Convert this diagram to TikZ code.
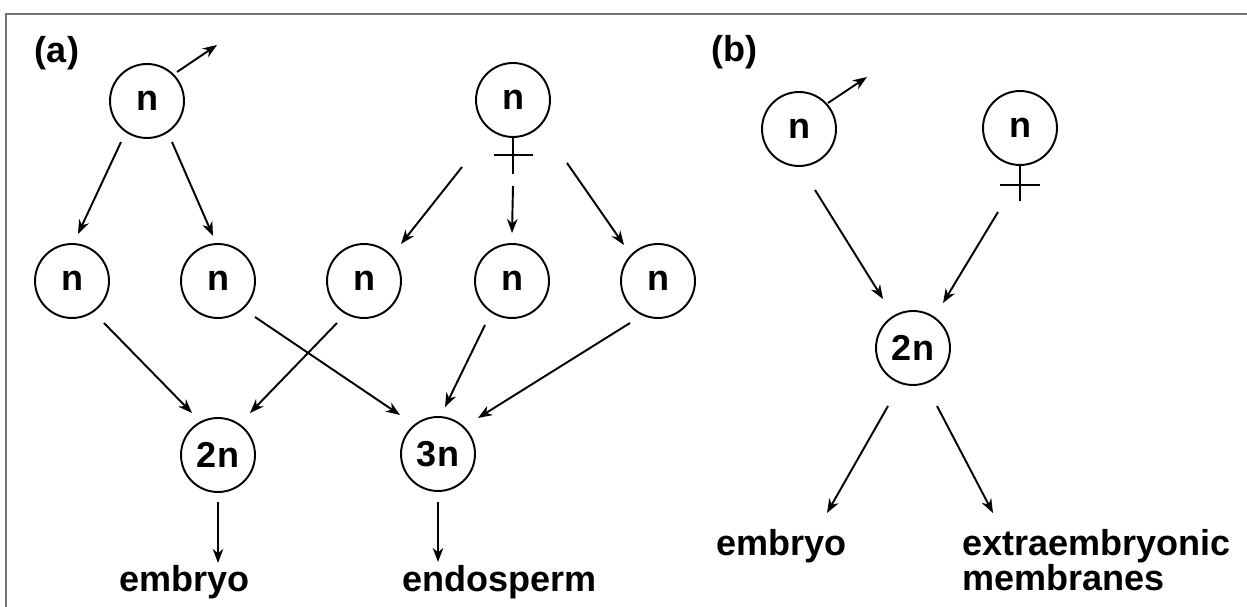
\documentclass[tikz,border=0pt]{standalone}
\usepackage{fontspec}
\setmainfont{Liberation Sans}
\usetikzlibrary{arrows.meta,calc}
\begin{document}
\begin{tikzpicture}[x=0.02cm,y=-0.02cm,
  cell/.style={circle,draw,line width=1.1pt,minimum size=1.48cm,inner sep=0pt,
    font=\fontsize{20.5}{24}\selectfont\bfseries},
  arr/.style={-{Stealth[length=8pt,width=6pt,inset=2.5pt]},line width=1.1pt},
  sym/.style={line width=1.1pt},
  lbl/.style={inner sep=0pt,font=\fontsize{20.5}{24}\selectfont\bfseries},
  frame/.style={line width=0.8pt,draw=black!55}]
\useasboundingbox (0,0) rectangle (1247,607);
\draw[frame] (6,607) -- (6,14) -- (1247,14);
% (a)
\node[lbl] (la) at (57,53) {(a)};
\node[cell] (aM) at (147,101) {n};
\node[cell] (aF) at (513,100) {n};
\node[cell] (a1) at (72,281) {n};
\node[cell] (a2) at (218,281) {n};
\node[cell] (a3) at (364,281) {n};
\node[cell] (a4) at (512,281) {n};
\node[cell] (a5) at (658,281) {n};
\node[cell] (a2n) at (218,455) {2n};
\node[cell] (a3n) at (438,454) {3n};
\node[lbl,anchor=base west] (emba) at (119,591) {embryo};
\node[lbl,anchor=base west] (endo) at (402,591) {endosperm};
% male / female symbols (a)
\draw[arr] ($(aM)+(30,-29)$) -- ($(aM)+(70,-56)$);
\draw[sym] (aF.south) -- ++(0,36);
\draw[sym] ($(aF.south)+(-19,17)$) -- ++(39,0);
% arrows (a)
\draw[arr] ($(aM)+(-26,41)$) -- ($(a1)+(6,-47)$);
\draw[arr] ($(aM)+(25,41)$) -- ($(a2)+(-5,-45)$);
\draw[arr] ($(aF)+(-51,67)$) -- ($(a3)+(37,-37)$);
\draw[arr] ($(aF)+(0,86)$) -- ($(a4)+(0,-48)$);
\draw[arr] ($(aF)+(54,63)$) -- ($(a5)+(-34,-36)$);
\draw[arr] ($(a1)+(32,42)$) -- ($(a2n)+(-26,-42)$);
\draw[arr] ($(a2)+(37,36)$) -- ($(a3n)+(-38,-39)$);
\draw[arr] ($(a3)+(-27,42)$) -- ($(a2n)+(32,-42)$);
\draw[arr] ($(a4)+(-27,44)$) -- ($(a3n)+(7,-47)$);
\draw[arr] ($(a5)+(-28,42)$) -- ($(a3n)+(40,-36)$);
\draw[arr] ($(a2n)+(0,47)$) -- ($(a2n)+(0,108)$);
\draw[arr] ($(a3n)+(0,48)$) -- ($(a3n)+(0,108)$);
% (b)
\node[lbl] (lb) at (734,52) {(b)};
\node[cell] (bM) at (799,129) {n};
\node[cell] (bF) at (1020,128) {n};
\node[cell] (b2n) at (913,348) {2n};
\node[lbl,anchor=base east] (embb) at (847,555) {embryo};
\node[lbl,anchor=base west] (extra) at (962,555) {extraembryonic};
\node[lbl,anchor=base west] (memb) at (962,590) {membranes};
\draw[arr] ($(bM)+(29,-26)$) -- ($(bM)+(68,-52)$);
\draw[sym] (bF.south) -- ++(0,35);
\draw[sym] ($(bF.south)+(-20,19)$) -- ++(40,0);
\draw[arr] ($(bM)+(16,61)$) -- ($(b2n)+(-30,-49)$);
\draw[arr] ($(bF)+(-22,84)$) -- ($(b2n)+(30,-45)$);
\draw[arr] ($(b2n)+(-25,58)$) -- ($(b2n)+(-86,165)$);
\draw[arr] ($(b2n)+(24,58)$) -- ($(b2n)+(80,165)$);
\end{tikzpicture}
\end{document}
